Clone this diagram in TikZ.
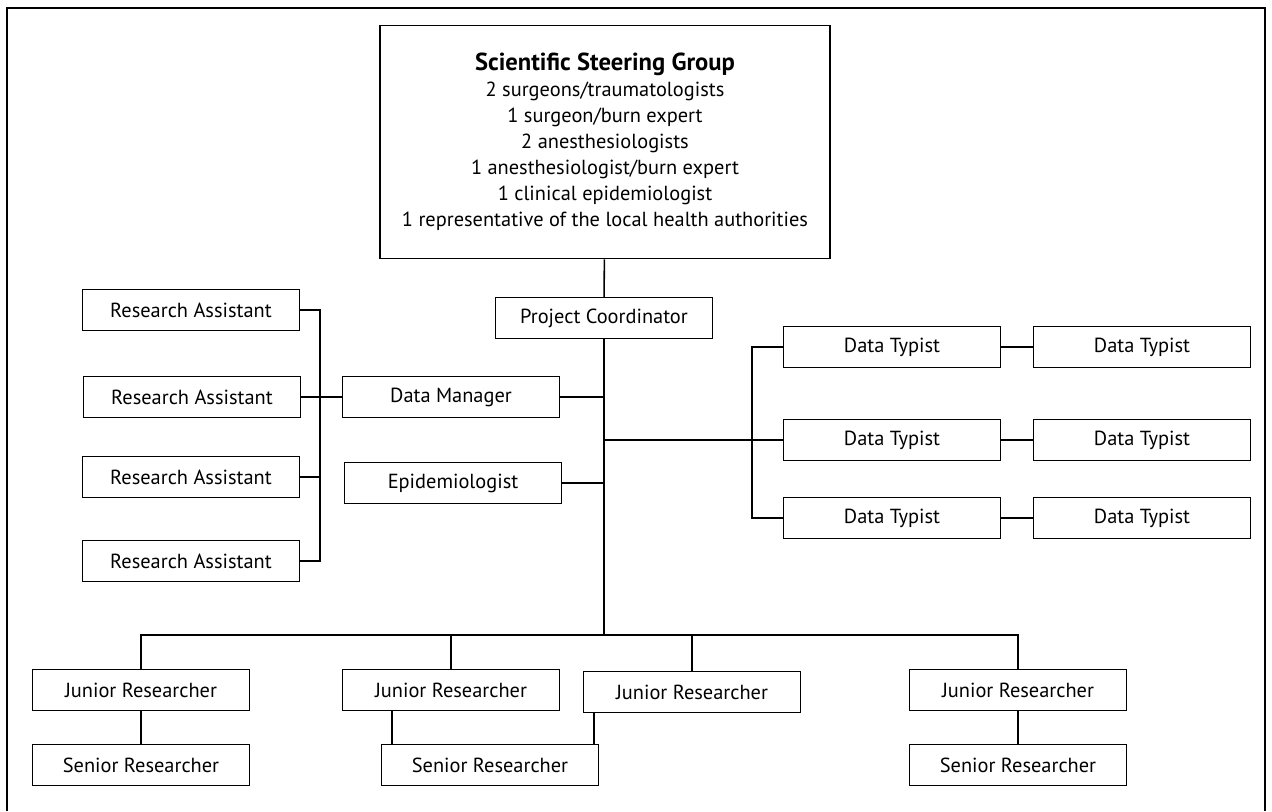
\documentclass[tikz,border=0pt]{standalone}
\usepackage{fontspec}
\setmainfont{PT Sans}
\usepackage{tikz}

\begin{document}
\begin{tikzpicture}[x=0.025cm,y=-0.025cm,line width=1.1pt,
  box/.style={draw,minimum width=5.43cm,minimum height=1.02cm,inner sep=0pt,
    font=\fontsize{14.5}{17}\selectfont}]

\useasboundingbox (0,0) rectangle (1272,811);
\draw (7,811) -- (7,8) -- (1265,8) -- (1265,811);

\node[draw][minimum width=11.25cm,minimum height=5.83cm,align=center,
  font=\fontsize{14.5}{18.5}\selectfont] (SSG) at (605,142)
  {{\bfseries\fontsize{17.5}{19}\selectfont Scientific Steering Group}\\
   2 surgeons/traumatologists\\
   1 surgeon/burn expert\\
   2 anesthesiologists\\
   1 anesthesiologist/burn expert\\
   1 clinical epidemiologist\\
   1 representative of the local health authorities};

\node[box] (PC) at (604,318) {Project Coordinator};
\coordinate (BUS) at (604,635);

\draw (SSG) -- (PC);
\draw (PC) -- (BUS);
%%%
\node[box] (RA1) at (191,310) {Research Assistant};
\node[box] (RA2) at (192,397) {Research Assistant};
\node[box] (RA3) at (191,477) {Research Assistant};
\node[box] (RA4) at (191,561) {Research Assistant};
\node[box] (DM) at (451,397) {Data Manager};
\node[box] (EPI) at (453,483) {Epidemiologist};
\coordinate (RABUS) at (320,397);

\draw (RA1) -| (RABUS) |- (RA4);
\draw (RA3) -- (RA3 -| RABUS);
\draw (RA2) -- (DM);
\draw (DM) -- (DM -| BUS);
\draw (EPI) -- (EPI -| BUS);
%%%
\node[box] (DT1) at (892,347) {Data Typist};
\node[box] (DT2) at (892,440) {Data Typist};
\node[box] (DT3) at (892,518) {Data Typist};
\node[box] (DT1b) at (1142,347) {Data Typist};
\node[box] (DT2b) at (1142,440) {Data Typist};
\node[box] (DT3b) at (1142,518) {Data Typist};
\coordinate (DTBUS) at (752,440);

\draw (DT1) -| (DTBUS) |- (DT3);
\draw (DT2) -- (DT2 -| BUS);
\draw (DT1) -- (DT1b);
\draw (DT2) -- (DT2b);
\draw (DT3) -- (DT3b);
%%%
\node[box] (JR1) at (141,690) {Junior Researcher};
\node[box] (JR2) at (451,690) {Junior Researcher};
\node[box] (JR3) at (692,692) {Junior Researcher};
\node[box] (JR4) at (1018,690) {Junior Researcher};
\node[box] (SR1) at (141,765) {Senior Researcher};
\node[box] (SR2) at (490,765) {Senior Researcher};
\node[box] (SR4) at (1018,765) {Senior Researcher};

\draw (JR1) |- (BUS) -| (JR4);
\draw (JR2) -- (JR2 |- BUS);
\draw (JR3) -- (JR3 |- BUS);
\draw (JR1) -- (SR1);
\draw (JR4) -- (SR4);
\draw ([xshift=0.28cm]SR2.north west) -- ([xshift=0.28cm]SR2.north west |- JR2.south);
\draw ([xshift=-0.13cm]SR2.north east) -- ([xshift=-0.13cm]SR2.north east |- JR3.south);
\end{tikzpicture}
\end{document}
